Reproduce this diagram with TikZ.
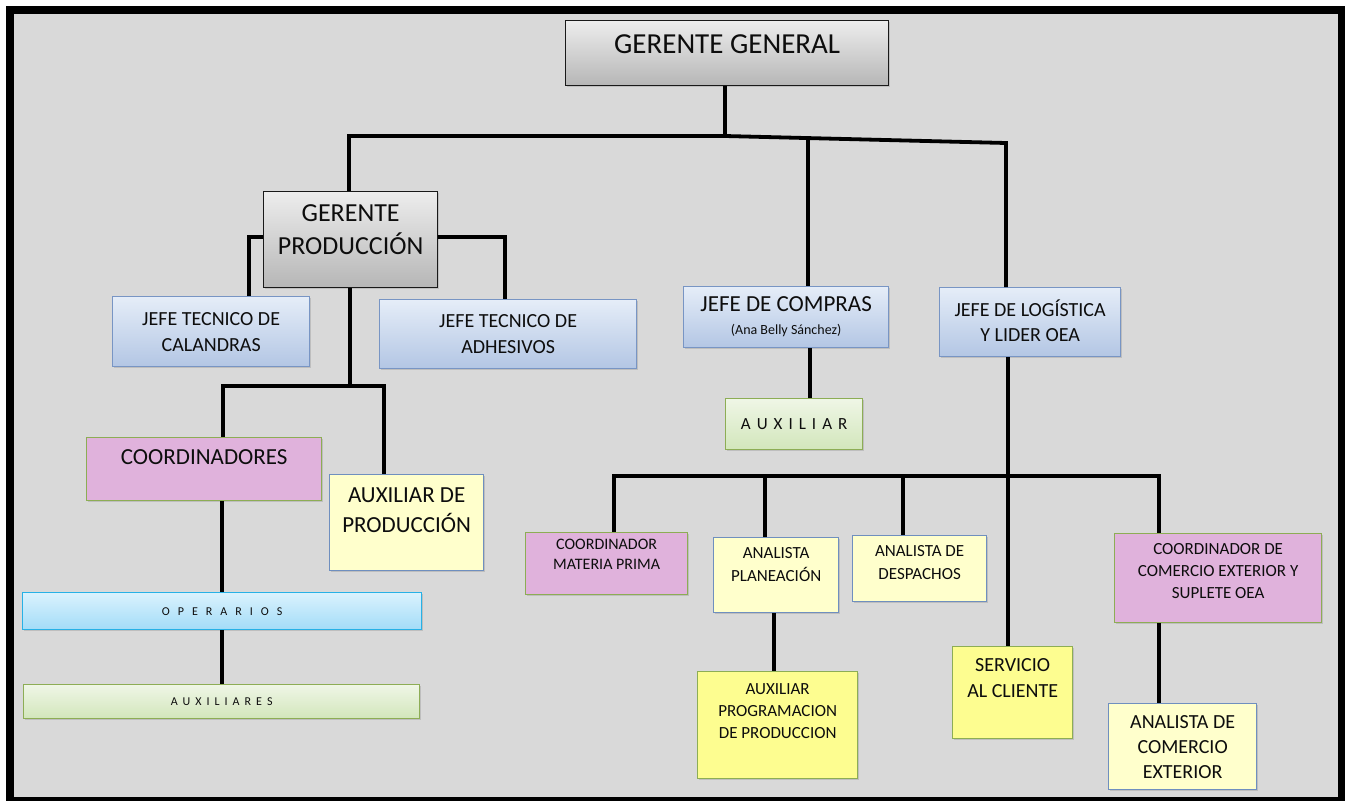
\documentclass[tikz,border=0pt]{standalone}
\usepackage{fontspec}
\setmainfont{Carlito}
\usepackage{xcolor}
\usetikzlibrary{shadows}

\definecolor{sheet}{HTML}{D9D9D9}
\definecolor{greytop}{HTML}{EDEDED}
\definecolor{greybot}{HTML}{B6B6B6}
\definecolor{bluetop}{HTML}{E5EDF8}
\definecolor{bluebot}{HTML}{B3C6E4}
\definecolor{blueline}{HTML}{7895C4}
\definecolor{pinkfill}{HTML}{E0B2DC}
\definecolor{greenline}{HTML}{8DAD55}
\definecolor{creamfill}{HTML}{FFFFCC}
\definecolor{creamline}{HTML}{6F8FBF}
\definecolor{yellowfill}{HTML}{FDFD90}
\definecolor{skytop}{HTML}{DAF2FD}
\definecolor{skybot}{HTML}{A3DCF8}
\definecolor{skyline}{HTML}{27B1E6}
\definecolor{greentop}{HTML}{EFF6E6}
\definecolor{greenbot}{HTML}{D2E6BB}

\begin{document}
\begin{tikzpicture}[x=1pt,y=-1pt,
    box/.style={draw, line width=1.3pt, inner sep=2pt, align=center, anchor=north west,
      text=black!95, drop shadow={shadow xshift=1.5pt,shadow yshift=-1.5pt,opacity=0.3}},
    size/.style 2 args={minimum width=#1pt, minimum height=#2pt},
    fnt/.style 2 args={font=\fontsize{#1}{#2}\selectfont},
    wide/.style 2 args={font={\fontsize{#1}{#1}\selectfont\spaceskip=#2pt\relax}},
    lift/.style={execute at end node={\rule[-#1pt]{0pt}{0pt}}},
    greybox/.style={box, draw=black!90, top color=greytop, bottom color=greybot},
    bluebox/.style={box, draw=blueline, top color=bluetop, bottom color=bluebot},
    pinkbox/.style={box, draw=greenline, fill=pinkfill},
    creambox/.style={box, draw=creamline, fill=creamfill},
    yellowbox/.style={box, draw=greenline, fill=yellowfill},
    skybox/.style={box, draw=skyline, top color=skytop, bottom color=skybot},
    greenbox/.style={box, draw=greenline, top color=greentop, bottom color=greenbot},
    link/.style={line width=3.8pt}
  ]
  % sheet and frame
  \useasboundingbox (0,0) rectangle (1345,801);
  \fill[white] (0,0) rectangle (1345,801);
  \fill[black] (6,6) rectangle (1345,801);
  \fill[sheet] (14,14) rectangle (1338,797);

  % top level
  \node[greybox, size={323}{65}, fnt={29}{35}, lift=19] (gg) at (565,20) {GERENTE GENERAL};

  % production branch
  \node[greybox, size={174}{96}, fnt={26}{33}, lift=20] (gp) at (263,191) {GERENTE\\PRODUCCIÓN};
  \node[bluebox, size={197}{70}, fnt={20}{26}] (cal) at (112,296) {JEFE TECNICO DE\\CALANDRAS};
  \node[bluebox, size={257}{69}, fnt={20}{26}] (adh) at (379,299) {JEFE TECNICO DE\\ADHESIVOS};
  \node[pinkbox, size={235}{63}, fnt={23}{28}, lift=24] (coord) at (86,437) {COORDINADORES};
  \node[creambox, size={154}{96}, fnt={23}{30}, lift=25] (auxp) at (329,474) {AUXILIAR DE\\PRODUCCIÓN};
  \node[skybox, size={399}{37}, wide={12}{8}] (oper) at (22,592) {O P E R A R I O S};
  \node[greenbox, size={396}{34}, wide={12}{5}] (auxs) at (23,684) {A U X I L I A R E S};

  % purchasing branch
  \node[bluebox, size={205}{61}, fnt={23}{27}] (jdc) at (683,286)
    {JEFE DE COMPRAS\\[-4pt]{\fontsize{14}{16}\selectfont (Ana Belly Sánchez)}};
  \node[greenbox, size={137}{51}, wide={17}{6}] (aux) at (725,398) {A U X I L I A R};

  % logistics branch
  \node[bluebox, size={181}{69}, fnt={20}{25}, lift=4] (jdl) at (939,287) {JEFE DE LOGÍSTICA\\Y LIDER OEA};
  \node[pinkbox, size={162}{62}, fnt={16}{20}, lift=18] (cmp) at (525,532) {COORDINADOR\\MATERIA PRIMA};
  \node[creambox, size={125}{75}, fnt={17}{23}, lift=22] (ap) at (713,537) {ANALISTA\\PLANEACIÓN};
  \node[creambox, size={134}{66}, fnt={17}{23}, lift=13] (add) at (852,535) {ANALISTA DE\\DESPACHOS};
  \node[pinkbox, size={207}{89}, fnt={17}{22}, lift=14] (cce) at (1114,533)
    {COORDINADOR DE\\COMERCIO EXTERIOR Y\\SUPLETE OEA};
  \node[yellowbox, size={120}{92}, fnt={20}{26}, lift=29] (sac) at (952,646) {SERVICIO\\AL CLIENTE};
  \node[yellowbox, size={160}{107}, fnt={17}{22}, lift=29] (app) at (697,671)
    {AUXILIAR\\PROGRAMACION\\DE PRODUCCION};
  \node[creambox, size={148}{86}, fnt={20}{25}] (ace) at (1108,703) {ANALISTA DE\\COMERCIO\\EXTERIOR};

  % junctions
  \coordinate (top) at (725,136);
  \coordinate (left) at (349,136);
  \coordinate (right) at (1006,143);
  \coordinate (buy) at (808,139);
  \coordinate (calj) at (249,237);
  \coordinate (adhj) at (505,237);
  \coordinate (prod) at (350,386);
  \coordinate (coordj) at (223,386);
  \coordinate (auxpj) at (384,386);
  \coordinate (auxj) at (810,370);
  \coordinate (logj) at (1008,476);
  \coordinate (barl) at (614,476);
  \coordinate (barr) at (1159,476);
  \coordinate (apj) at (765,476);
  \coordinate (addj) at (903,476);
  \coordinate (appj) at (774,640);

  % connectors
  \draw[link] (gg.south -| top) -- (top) -- (left) -- (gp.north -| left);
  \draw[link] (top) -- (right) -- (jdl.north -| right);
  \draw[link] (buy) -- (jdc.north -| buy);
  \draw[link] (gp.west |- calj) -| (cal.north -| calj);
  \draw[link] (gp.east |- adhj) -| (adh.north -| adhj);
  \draw[link] (gp.south -| prod) -- (prod);
  \draw[link] (coord.north -| coordj) |- (auxpj) -- (auxp.north -| auxpj);
  \draw[link] (coord.south -| oper.north) -- (oper.north);
  \draw[link] (oper.south) -- (auxs.north -| oper.south);
  \draw[link] (jdc.south -| auxj) -- (aux.north -| auxj);
  \draw[link] (jdl.south -| logj) -- (sac.north -| logj);
  \draw[link] (cmp.north -| barl) |- (barr) -- (cce.north -| barr);
  \draw[link] (apj) -- (ap.north -| apj);
  \draw[link] (addj) -- (add.north -| addj);
  \draw[link] (ap.south -| appj) -- (app.north -| appj);
  \draw[link] (cce.south -| barr) -- (ace.north -| barr);
\end{tikzpicture}
\end{document}
